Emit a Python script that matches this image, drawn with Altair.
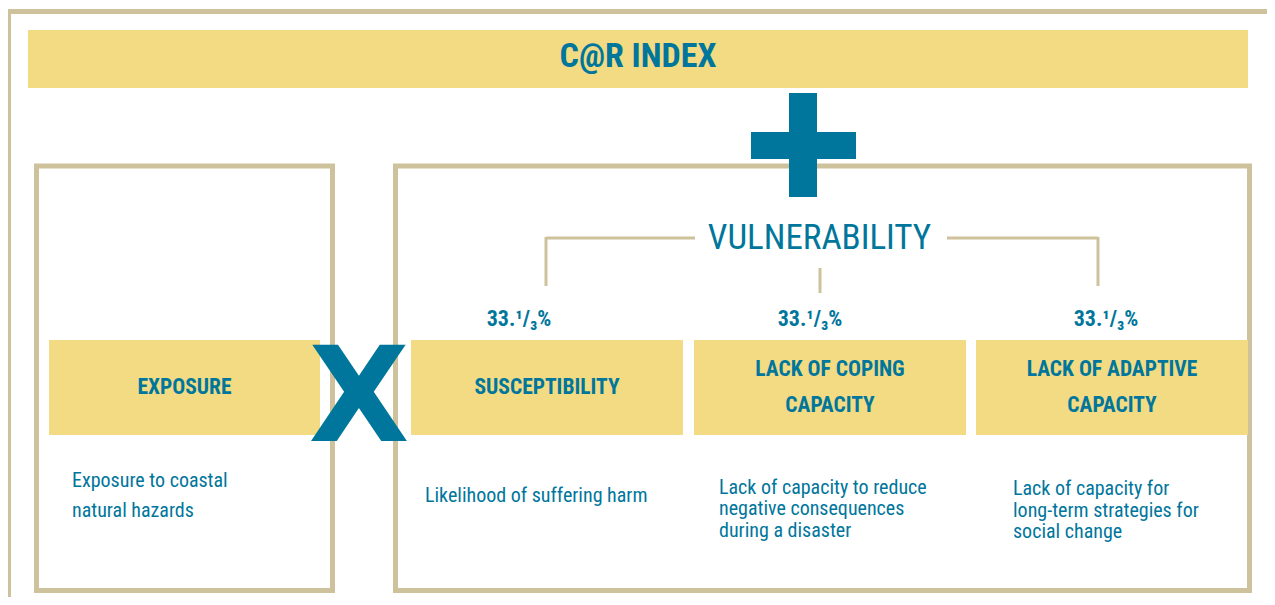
import altair as alt
import pandas as pd

# ---------------- content ----------------
title_text = "C@R INDEX"
group_text = "VULNERABILITY"
exposure_label = ["EXPOSURE"]
component_labels = [["SUSCEPTIBILITY"], ["LACK OF COPING", "CAPACITY"], ["LACK OF ADAPTIVE", "CAPACITY"]]
component_weights = ["33.¹/₃%", "33.¹/₃%", "33.¹/₃%"]
exposure_desc = ["Exposure to coastal", "natural hazards"]
component_descs = [
    ["Likelihood of suffering harm"],
    ["Lack of capacity to reduce", "negative consequences", "during a disaster"],
    ["Lack of capacity for", "long-term strategies for", "social change"],
]

# ---------------- style ----------------
TEAL = "#00769C"
YELLOW = "#F2DB82"
BEIGE = "#CDC29B"
COND = "Liberation Sans Narrow, Roboto Condensed, Arial Narrow, Roboto, sans-serif"

W, H = 1259, 589
OX, OY = 8, 8

# ---------------- layout (page pixel coordinates) ----------------
comp_x0 = [411, 694, 976]
comp_w = 272
box_y0, box_y1 = 340, 435
weight_x = [519, 810, 1106]

frame = pd.DataFrame([
    dict(x=OX, x2=OX + W, y=11.5, y2=11.5),
    dict(x=8.5, x2=8.5, y=9, y2=OY + H),
])
boxes = pd.DataFrame([
    dict(x=36.5, x2=332.5, y=166, y2=590.5),
    dict(x=395.5, x2=1249.5, y=166, y2=590.5),
])
yellow = pd.DataFrame(
    [dict(x=28, x2=1248, y=30, y2=88), dict(x=49, x2=320, y=box_y0, y2=box_y1)]
    + [dict(x=x0, x2=x0 + comp_w, y=box_y0, y2=box_y1) for x0 in comp_x0]
)
plus = pd.DataFrame([
    dict(x=789, x2=817, y=93, y2=197),
    dict(x=751, x2=856, y=132, y2=159),
])
bracket = pd.DataFrame([
    dict(x=546, x2=695, y=238, y2=238),
    dict(x=546, x2=546, y=237, y2=286),
    dict(x=947, x2=1098, y=238, y2=238),
    dict(x=1098, x2=1098, y=237, y2=286),
    dict(x=820, x2=820, y=268, y2=293),
])

centers = [x0 + comp_w / 2 for x0 in comp_x0]
weights_df = pd.DataFrame(dict(x=weight_x, y=[319] * 3, t=component_weights))

label_rows = [dict(x=184.5, y=388, t=exposure_label[0])]
for c, lines in zip(centers, component_labels):
    if len(lines) == 1:
        label_rows.append(dict(x=c, y=388, t=lines[0]))
    else:
        for i, ln in enumerate(lines):
            label_rows.append(dict(x=c, y=370 + 36 * i, t=ln))
labels_df = pd.DataFrame(label_rows)

desc_rows = [dict(x=72, y=487 + 30 * i, t=ln) for i, ln in enumerate(exposure_desc)]
desc_starts = [(425, 502, 21.5), (719, 493.5, 21.5), (1013, 495, 21.5)]
for (x0, y0, lh), lines in zip(desc_starts, component_descs):
    for i, ln in enumerate(lines):
        desc_rows.append(dict(x=x0, y=y0 + lh * i, t=ln))
desc_df = pd.DataFrame(desc_rows)

xs = alt.Scale(domain=[OX, OX + W], nice=False, zero=False)
ys = alt.Scale(domain=[OY, OY + H], nice=False, zero=False, reverse=True)
X = lambda f="x": alt.X(f"{f}:Q", scale=xs, axis=None)
Y = lambda f="y": alt.Y(f"{f}:Q", scale=ys, axis=None)

frame_l = alt.Chart(frame).mark_rule(color=BEIGE, strokeWidth=5).encode(
    x=X(), x2="x2:Q", y=Y(), y2="y2:Q")
boxes_l = alt.Chart(boxes).mark_rect(fill="white", stroke=BEIGE, strokeWidth=5).encode(
    x=X(), x2="x2:Q", y=Y(), y2="y2:Q")
yellow_l = alt.Chart(yellow).mark_rect(color=YELLOW).encode(
    x=X(), x2="x2:Q", y=Y(), y2="y2:Q")
plus_l = alt.Chart(plus).mark_rect(color=TEAL).encode(
    x=X(), x2="x2:Q", y=Y(), y2="y2:Q")
bracket_l = alt.Chart(bracket).mark_rule(color=BEIGE, strokeWidth=3).encode(
    x=X(), x2="x2:Q", y=Y(), y2="y2:Q")

title_l = alt.Chart(pd.DataFrame(dict(x=[638], y=[57], t=[title_text]))).mark_text(
    font=COND, fontSize=34, fontWeight="bold", color=TEAL, baseline="middle", align="center"
).encode(x=X(), y=Y(), text="t:N")
group_l = alt.Chart(pd.DataFrame(dict(x=[819.5], y=[238], t=[group_text]))).mark_text(
    font=COND, fontSize=35, color=TEAL, baseline="middle", align="center"
).encode(x=X(), y=Y(), text="t:N")
times_l = alt.Chart(pd.DataFrame(dict(x=[359], y=[441], t=["X"]))).mark_text(
    font="DejaVu Sans", fontSize=131, fontWeight="bold", color=TEAL, baseline="alphabetic", align="center"
).encode(x=X(), y=Y(), text="t:N")
weights_l = alt.Chart(weights_df).mark_text(
    font=COND, fontSize=22, fontWeight="bold", color=TEAL, baseline="middle", align="center"
).encode(x=X(), y=Y(), text="t:N")
labels_l = alt.Chart(labels_df).mark_text(
    font=COND, fontSize=21.5, fontWeight="bold", color=TEAL, baseline="middle", align="center"
).encode(x=X(), y=Y(), text="t:N")
desc_l = alt.Chart(desc_df).mark_text(
    font=COND, fontSize=20, color=TEAL, baseline="alphabetic", align="left"
).encode(x=X(), y=Y(), text="t:N")

chart = alt.layer(
    frame_l, boxes_l, yellow_l, bracket_l, plus_l, title_l, group_l,
    weights_l, labels_l, desc_l, times_l
).properties(
    width=W, height=H, padding=0, autosize=alt.AutoSizeParams(type="none")
).configure_view(stroke=None)

chart.save("out.html", embed_options={"renderer": "svg", "actions": False})
